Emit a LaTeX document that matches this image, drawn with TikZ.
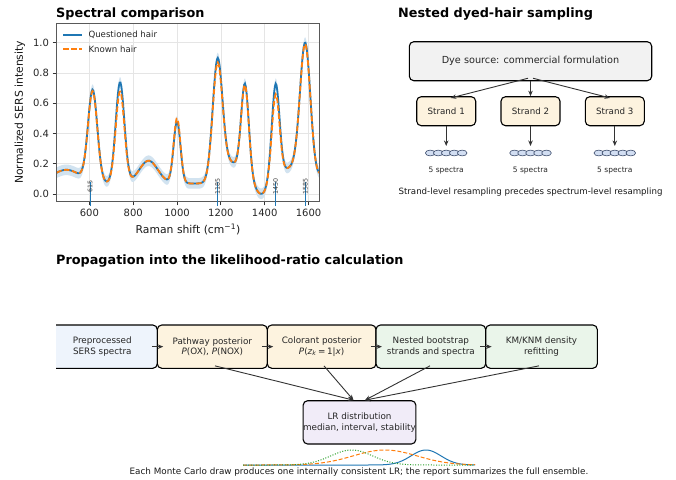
\documentclass[tikz,border=0pt]{standalone}
\usepackage{fontspec}
\setmainfont{DejaVu Sans}
\usepackage{pgfplots}
\pgfplotsset{compat=1.18}
\usetikzlibrary{arrows.meta}
\definecolor{tabblue}{HTML}{1F77B4}
\definecolor{taborange}{HTML}{FF7F0E}
\definecolor{tabgreen}{HTML}{2CA02C}
\definecolor{bandblue}{HTML}{D2E3F0}
\definecolor{arrowfill}{HTML}{2B4C7E}
\definecolor{preFill}{HTML}{EEF4FC}
\definecolor{yelFill}{HTML}{FDF3DF}
\definecolor{grnFill}{HTML}{EAF5EA}
\definecolor{purFill}{HTML}{F1ECF8}
\definecolor{gryFill}{HTML}{F2F2F2}
\definecolor{ellFill}{HTML}{D2DEF2}
\definecolor{ellDraw}{HTML}{3C4C6C}
\tikzset{
  flowbox/.style={draw=black, line width=1.1pt, rounded corners=4.5pt, inner sep=0pt, align=center, font=\fontsize{8.8}{10.6}\selectfont, text=black!85},
  arr/.style={draw=black!80, line width=0.9pt, -{Stealth[length=5.5pt,width=4.5pt,fill=arrowfill]}},
  titletext/.style={anchor=base west, inner sep=0pt, font=\fontsize{12.8}{15}\selectfont\bfseries},
  smalltext/.style={anchor=base, inner sep=0pt, font=\fontsize{7.5}{9}\selectfont, text=black!85},
  captext/.style={anchor=base, inner sep=0pt, font=\fontsize{8.65}{10}\selectfont, text=black!90},
  legtext/.style={anchor=west, inner sep=0pt, font=\fontsize{8.6}{10}\selectfont, text=black!85},
  specell/.style={draw=ellDraw, fill=ellFill, line width=0.6pt},
  peaklbl/.style={rotate=90, font=\fontsize{6.3}{7}\selectfont, text=black!75, inner sep=0.5pt},
  stem/.style={tabblue, line width=0.9pt},
  declare function={
    gss(\xx,\cc,\ww)=exp(-((\xx-\cc)/\ww)^2);
    bsl(\xx)=0.07+0.09*gss(\xx,495,90)+0.15*gss(\xx,870,60)+0.13*gss(\xx,1250,50)-0.07*gss(\xx,1385,35)+0.10*gss(\xx,1520,60)+0.08*gss(\xx,1680,40);
    qsp(\xx)=bsl(\xx)+0.605*gss(\xx,615,30)+0.668*gss(\xx,740,28)+0.41*gss(\xx,1000,22)+0.805*gss(\xx,1185,32)+0.63*gss(\xx,1310,25)+0.636*gss(\xx,1450,25)+0.90*gss(\xx,1585,34);
    ksp(\xx)=bsl(\xx)+0.595*gss(\xx,615,30)+0.608*gss(\xx,740,28)+0.43*gss(\xx,1000,22)+0.775*gss(\xx,1185,32)+0.62*gss(\xx,1310,25)+0.566*gss(\xx,1450,25)+0.89*gss(\xx,1585,34);
  }
}
\begin{document}
\begin{tikzpicture}
\begin{scope}[x=1pt,y=-1pt]
\useasboundingbox[fill=white] (0,0) rectangle (676,479);
\end{scope}

% ---------------- Spectral comparison (axis) ----------------
\begin{axis}[
  at={(56.5pt,-201.3pt)}, anchor=south west, scale only axis,
  width=263pt, height=178pt,
  xmin=450, xmax=1650, ymin=-0.048, ymax=1.128,
  xtick={600,800,1000,1200,1400,1600}, xticklabels={600,800,1000,1200,1400,1600},
  ytick={0,0.2,0.4,0.6,0.8,1.0}, yticklabels={0.0,0.2,0.4,0.6,0.8,1.0},
  tick pos=left, tick align=outside, major tick length=4pt,
  xmajorgrids, ymajorgrids, grid style={draw=black!10, line width=0.6pt},
  axis line style={draw=black!65, line width=0.8pt},
  tick style={draw=black!80, line width=0.8pt},
  tick label style={font=\fontsize{10}{12}\selectfont, text=black!85},
  label style={font=\fontsize{10.8}{13}\selectfont, text=black!90},
  xlabel={Raman shift (cm\textsuperscript{−1})},
  ylabel={Normalized SERS intensity},
  xlabel style={at={(axis description cs:0.5,-0.157)}, anchor=center},
  ylabel style={at={(axis description cs:-0.139,0.5)}, anchor=center},
  samples=301, domain=450:1650
]
\addplot[stack plots=y, draw=none, forget plot] {qsp(x)-0.035};
\addplot[stack plots=y, fill=bandblue, draw=none, forget plot] {0.07} \closedcycle;
\addplot[tabblue, line width=1.8pt] {qsp(x)};
\addplot[taborange, line width=1.8pt, dash pattern=on 5.5pt off 2.5pt] {ksp(x)};
\end{axis}

% ---------------- LR ensemble curves (axis) ----------------
\begin{axis}[at={(243pt,-465pt)}, anchor=south west, scale only axis,
  width=232pt, height=15pt, xmin=243, xmax=475, ymin=0, ymax=1,
  hide axis, clip=false, samples=150, domain=243:475]
\addplot[tabblue, line width=1pt] {exp(-0.5*((x-426)/15)^2)};
\addplot[taborange, line width=1pt, dash pattern=on 4pt off 2pt] {exp(-0.5*((x-385)/32)^2)};
\addplot[tabgreen, line width=1pt, dash pattern=on 1pt off 1.6pt] {exp(-0.5*((x-351.7)/21)^2)};
\end{axis}

\begin{scope}[x=1pt,y=-1pt]
\draw[black!65, line width=0.8pt] (56.5,23.3) rectangle (319.5,201.3);
\node[titletext] (t1) at (56,17.5) {Spectral comparison};
% peak markers (x = 56.5 + (shift-450)*0.21917 ; y = 194 - 151.3*I)
\foreach \pk/\px in {615/90.1, 1185/217.6, 1450/275.7, 1585/305.3}{
  \draw[stem] (\px,206) -- (\px,181.9);
  \node[peaklbl] (pk\pk) at (\px,186.7) {\pk};
}
% legend
\coordinate (lq1) at (63.3,35); \coordinate (lq2) at (81.7,35);
\coordinate (lk1) at (63.3,49); \coordinate (lk2) at (81.7,49);
\draw[tabblue, line width=1.8pt] (lq1) -- (lq2);
\draw[taborange, line width=1.8pt, dash pattern=on 5.5pt off 2.5pt] (lk1) -- (lk2);
\node[legtext] (lqt) at (88.3,35) {Questioned hair};
\node[legtext] (lkt) at (88.3,49) {Known hair};

% ---------------- Nested dyed-hair sampling ----------------
\node[titletext] (t2) at (398,17.5) {Nested dyed-hair sampling};
\node[flowbox, fill=gryFill, minimum width=242.4pt, minimum height=39pt, font=\fontsize{9.7}{11}\selectfont] (dye) at (530.5,61.2) {Dye source: commercial formulation};
\node[flowbox, fill=yelFill, minimum width=59pt, minimum height=29pt, font=\fontsize{8.7}{10}\selectfont] (s1) at (446.2,111.2) {Strand 1};
\node[flowbox, fill=yelFill, minimum width=59pt, minimum height=29pt, font=\fontsize{8.7}{10}\selectfont] (s2) at (530.5,111.2) {Strand 2};
\node[flowbox, fill=yelFill, minimum width=59pt, minimum height=29pt, font=\fontsize{8.7}{10}\selectfont] (s3) at (614.8,111.2) {Strand 3};
\draw[arr] ([xshift=-2.5pt,yshift=3pt]dye.south) -- ([xshift=4.5pt,yshift=-1.8pt]s1.north);
\draw[arr] (dye.south) -- (s2.north);
\draw[arr] ([xshift=2.5pt,yshift=3pt]dye.south) -- ([xshift=-4.8pt,yshift=-1.8pt]s3.north);
\coordinate (sp1) at (446.2,146); \coordinate (sp2) at (530.5,146); \coordinate (sp3) at (614.8,146);
\draw[arr] (s1.south) -- (sp1);
\draw[arr] (s2.south) -- (sp2);
\draw[arr] (s3.south) -- (sp3);
\foreach \cx in {446.2,530.5,614.8}{
  \foreach \d in {-16,-8,0,8,16}{
    \draw[specell] (\cx+\d,153) ellipse [x radius=4.8pt, y radius=2.9pt];
  }
}
\node[smalltext] (n1) at (446.2,172) {5 spectra};
\node[smalltext] (n2) at (530.5,172) {5 spectra};
\node[smalltext] (n3) at (614.8,172) {5 spectra};
\node[captext] (c1) at (530.5,194.5) {Strand-level resampling precedes spectrum-level resampling};

% ---------------- Propagation ----------------
\node[titletext] (t3) at (56,264) {Propagation into the likelihood-ratio calculation};
\begin{scope}
  \clip (56,300) rectangle (676,400);
  \node[flowbox, fill=preFill, minimum width=110pt, minimum height=43.3pt] (pre) at (102.3,346.65) {Preprocessed\\SERS spectra};
\end{scope}
\node[flowbox, fill=yelFill, minimum width=110pt, minimum height=43.3pt] (pth) at (212.3,346.65) {Pathway posterior\\\textit{P}(OX), \textit{P}(NOX)};
\node[flowbox, fill=yelFill, minimum width=108.7pt, minimum height=43.3pt] (col) at (321.65,346.65) {Colorant posterior\\\textit{P}(\textit{z}\textsubscript{\textit{k}}\,=\,1|\textit{x})};
\node[flowbox, fill=grnFill, minimum width=109.7pt, minimum height=43.3pt] (nst) at (430.85,346.65) {Nested bootstrap\\strands and spectra};
\node[flowbox, fill=grnFill, minimum width=111.6pt, minimum height=43.3pt] (km) at (541.5,346.65) {KM/KNM density\\refitting};
\node[flowbox, fill=purFill, minimum width=112.4pt, minimum height=43.3pt] (lr) at (359.5,422.35) {LR distribution\\median, interval, stability};
\draw[arr] ([xshift=-6pt]pre.east) -- ([xshift=6.5pt]pth.west);
\draw[arr] ([xshift=-6pt]pth.east) -- ([xshift=6.5pt]col.west);
\draw[arr] ([xshift=-6pt]col.east) -- ([xshift=6.5pt]nst.west);
\draw[arr] ([xshift=-6pt]nst.east) -- ([xshift=6.5pt]km.west);
\draw[arr] ([xshift=2.7pt,yshift=3pt]pth.south) -- ([xshift=-6pt]lr.north);
\draw[arr] ([xshift=2.3pt,yshift=3pt]col.south) -- ([xshift=-6pt]lr.north);
\draw[arr] ([xshift=-0.9pt,yshift=3pt]nst.south) -- ([xshift=5.5pt]lr.north);
\draw[arr] ([xshift=-2.5pt,yshift=3pt]km.south) -- ([xshift=5.5pt]lr.north);
\node[captext, font=\fontsize{8.8}{10}\selectfont] (c2) at (359,474) {Each Monte Carlo draw produces one internally consistent LR; the report summarizes the full ensemble.};
\end{scope}
\end{tikzpicture}
\end{document}
